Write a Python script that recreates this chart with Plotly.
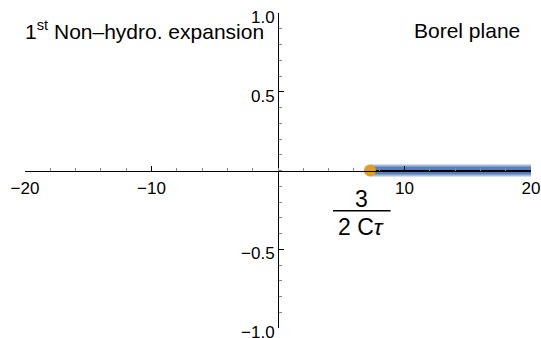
import plotly.graph_objects as go

# data
cut_x = [7.27, 20.0]          # branch cut along positive real axis
cut_y = [0.0, 0.0]
sing_x = [7.27]               # leading singularity 3/(2 C tau)
sing_y = [0.0]
xticks = [-20, -10, 10, 20]
yticks = [-1.0, -0.5, 0.5, 1.0]
ytick_text = ["\u22121.0", "\u22120.5", "0.5", "1.0"]
xtick_text = ["\u221220", "\u221210", "10", "20"]

FONT = "Liberation Sans, Arial, sans-serif"
fig = go.Figure()
fig.add_trace(go.Scatter(x=cut_x, y=cut_y, mode="lines",
                         line=dict(color="#a3bde0", width=12), hoverinfo="skip"))
fig.add_trace(go.Scatter(x=cut_x, y=cut_y, mode="lines",
                         line=dict(color="#5a7fb8", width=8), hoverinfo="skip"))
fig.add_trace(go.Scatter(x=cut_x, y=cut_y, mode="lines",
                         line=dict(color="#000000", width=1.2), hoverinfo="skip"))
fig.add_trace(go.Scatter(x=sing_x, y=sing_y, mode="markers",
                         marker=dict(color="#e39c2a", size=12, line=dict(width=0)),
                         hoverinfo="skip"))

fig.update_layout(
    width=541, height=338,
    margin=dict(l=25, r=10, t=13, b=10, autoexpand=False),
    paper_bgcolor="white", plot_bgcolor="white",
    showlegend=False,
    font=dict(family=FONT, size=17, color="black"),
    xaxis=dict(range=[-20, 20], anchor="free", position=0.5, automargin=False,
               showgrid=False, zeroline=False, showline=True, linecolor="black", linewidth=1,
               tickvals=xticks, ticktext=xtick_text, ticks="inside", ticklen=5,
               tickcolor="black", tickwidth=1, ticklabelstandoff=2,
               ticklabeloverflow="allow",
               minor=dict(dtick=2, ticks="inside", ticklen=3, tickcolor="#888", tickwidth=1),
               tickfont=dict(size=17), fixedrange=True),
    yaxis=dict(range=[-1, 1], anchor="free", position=0.5, automargin=False,
               showgrid=False, zeroline=False, showline=True, linecolor="black", linewidth=1,
               tickvals=yticks, ticktext=ytick_text, ticks="inside", ticklen=5,
               tickcolor="black", tickwidth=1, ticklabelshift=4,
               ticklabeloverflow="allow",
               minor=dict(dtick=0.1, ticks="inside", ticklen=3, tickcolor="#888", tickwidth=1),
               tickfont=dict(size=17), fixedrange=True),
)

# labels
fig.add_annotation(text="1<sup>st</sup> Non\u2013hydro. expansion", xref="paper", yref="paper",
                   x=0.0, y=0.945, xanchor="left", yanchor="middle", showarrow=False,
                   xshift=-2, font=dict(size=21))
fig.add_annotation(text="Borel plane", xref="paper", yref="paper",
                   x=0.982, y=0.945, xanchor="right", yanchor="middle", showarrow=False,
                   font=dict(size=21))
fig.add_annotation(text="3", xref="x", yref="y", x=6.6, y=-0.18, showarrow=False,
                   font=dict(size=23))
fig.add_annotation(text="2 C<i>\u03c4</i>", xref="x", yref="y", x=6.6, y=-0.36, showarrow=False,
                   font=dict(size=23))
fig.add_shape(type="line", xref="x", yref="y", x0=4.35, x1=8.9, y0=-0.255, y1=-0.255,
              line=dict(color="black", width=1.5))

fig.write_html("out.html")
